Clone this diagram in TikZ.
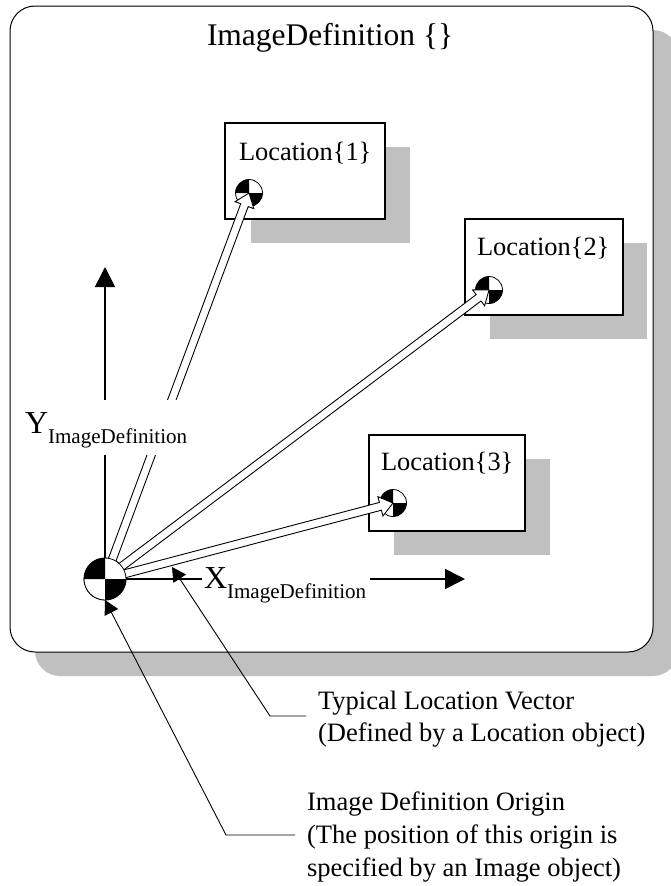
\documentclass[tikz,border=0pt]{standalone}
\usepackage{fontspec}
\setmainfont{Liberation Serif}
\usetikzlibrary{arrows.meta,calc}
\tikzset{
  sheet/.style={draw=black,line width=1pt,fill=white,rounded corners=25pt,minimum width=643pt,minimum height=646pt,inner sep=0pt,outer sep=0pt},
  sheetshadow/.style={fill=shade,rounded corners=25pt,minimum width=643pt,minimum height=646pt,inner sep=0pt,outer sep=0pt},
  locbox/.style={draw=black,line width=1.1pt,fill=white,minimum width=159pt,minimum height=96pt,inner sep=0pt,outer sep=0pt},
  locshadow/.style={fill=shade,minimum width=159pt,minimum height=96pt,inner sep=0pt,outer sep=0pt},
  target/.style={circle,draw=black,line width=.8pt,fill=white,minimum size=27pt,inner sep=0pt,outer sep=0pt},
  origin/.style={circle,draw=black,line width=.8pt,fill=white,minimum size=42pt,inner sep=0pt,outer sep=0pt},
  txt/.style={anchor=base west,inner sep=0pt,outer sep=0pt},
  title/.style={txt,font=\fontsize{31.5}{38}\selectfont},
  loctxt/.style={txt,font=\fontsize{26.4}{30}\selectfont},
  note/.style={txt,font=\fontsize{26.55}{30}\selectfont},
  axislabel/.style={txt,fill=white,font=\fontsize{32}{38}\selectfont},
  axis/.style={line width=1.6pt,-{Triangle[length=20pt,width=20pt]}},
  hollow/.style={draw=black,line width=.9pt,fill=white,line join=miter},
  leader/.style={draw=black,line width=.9pt,-{Triangle[length=14pt,width=15pt]}},
}
\definecolor{shade}{HTML}{C0C0C0}
\newcommand{\quadrants}[2]{%
  \fill[black] (#1.center) -- (#1.west) arc[start angle=180,end angle=90,radius=#2] -- cycle;
  \fill[black] (#1.center) -- (#1.east) arc[start angle=0,end angle=-90,radius=#2] -- cycle;
}
\newcommand{\hollowarrow}[2]{%
  \coordinate (hb) at ($(#2)!13pt!(#1)$);
  \draw[hollow] ($(#1)!4pt!90:(#2)$) -- ($(hb)!4pt!-90:(#1)$) -- ($(hb)!10pt!-90:(#1)$) -- (#2)
     -- ($(hb)!10pt!90:(#1)$) -- ($(hb)!4pt!90:(#1)$) -- ($(#1)!4pt!-90:(#2)$) -- cycle;
}
\newcommand{\subtxt}[1]{\raisebox{-10.5pt}{\fontsize{21.05}{25}\selectfont #1}}
\begin{document}
\begin{tikzpicture}[x=1pt,y=-1pt]
\useasboundingbox (0,0) rectangle (670,886);
% sheet
\node[sheetshadow] (sheetS) at (356.5,353) {};
\node[sheet] (sheet) at (331.5,329) {};
% location boxes
\node[locshadow] (s1) at (330,195) {};
\node[locshadow,minimum width=157pt] (s2) at (568.5,291) {};
\node[locshadow,minimum width=156pt] (s3) at (472,507) {};
\node[locbox,minimum width=160pt] (b1) at (305,171) {};
\node[locbox,minimum width=158pt] (b2) at (544,267) {};
\node[locbox,minimum width=156pt] (b3) at (447,483) {};
\node[title] (title) at (207,45) {ImageDefinition \{\}};
\node[loctxt] (t1) at (239,160) {Location\{1\}};
\node[loctxt] (t2) at (477,255) {Location\{2\}};
\node[loctxt] (t3) at (381,470) {Location\{3\}};
% targets
\node[target] (c1) at (249,193) {}; \quadrants{c1}{13.5pt}
\node[target] (c2) at (489,290) {}; \quadrants{c2}{13.5pt}
\node[target] (c3) at (393,503) {}; \quadrants{c3}{13.5pt}
% origin position and axes
\node[origin] (org) at (105,579) {};
\coordinate (ytip) at (105,267);
\coordinate (xtip) at (465,579);
\draw[axis] (org.center) -- (ytip);
\draw[axis] (org.center) -- (xtip);
% location vectors
\hollowarrow{org.center}{c1.center}
\hollowarrow{org.center}{c2.center}
\hollowarrow{org.center}{c3.center}
% axis labels mask what passes behind them
\node[axislabel,text height=33pt,text depth=22pt] (ylab) at (25,433) {Y\subtxt{ImageDefinition}};
\node[axislabel,text height=15pt,text depth=17pt,inner xsep=2pt,minimum width=168pt,text width=164pt] (xlab) at (202,588) {X\subtxt{ImageDefinition}};
% origin symbol on top
\node[origin] (org2) at (org) {}; \quadrants{org2}{21pt}
% leaders
\coordinate (ltip) at (172,567);
\coordinate (lbend) at (270,716);
\coordinate (lend) at (306,716);
\draw[leader] (lend) -- (lbend) -- (ltip);
\coordinate (obend) at (226,835);
\coordinate (oend) at (295,835);
\draw[leader] (oend) -- (obend) -- (org2.south);
% notes
\node[note] (n1) at (318,709) {Typical Location Vector};
\node[note] (n2) at (318,741) {(Defined by a Location object)};
\node[note] (n3) at (307,810) {Image Definition Origin};
\node[note] (n4) at (307,843) {(The position of this origin is};
\node[note] (n5) at (307,876) {specified by an Image object)};
\end{tikzpicture}
\end{document}
